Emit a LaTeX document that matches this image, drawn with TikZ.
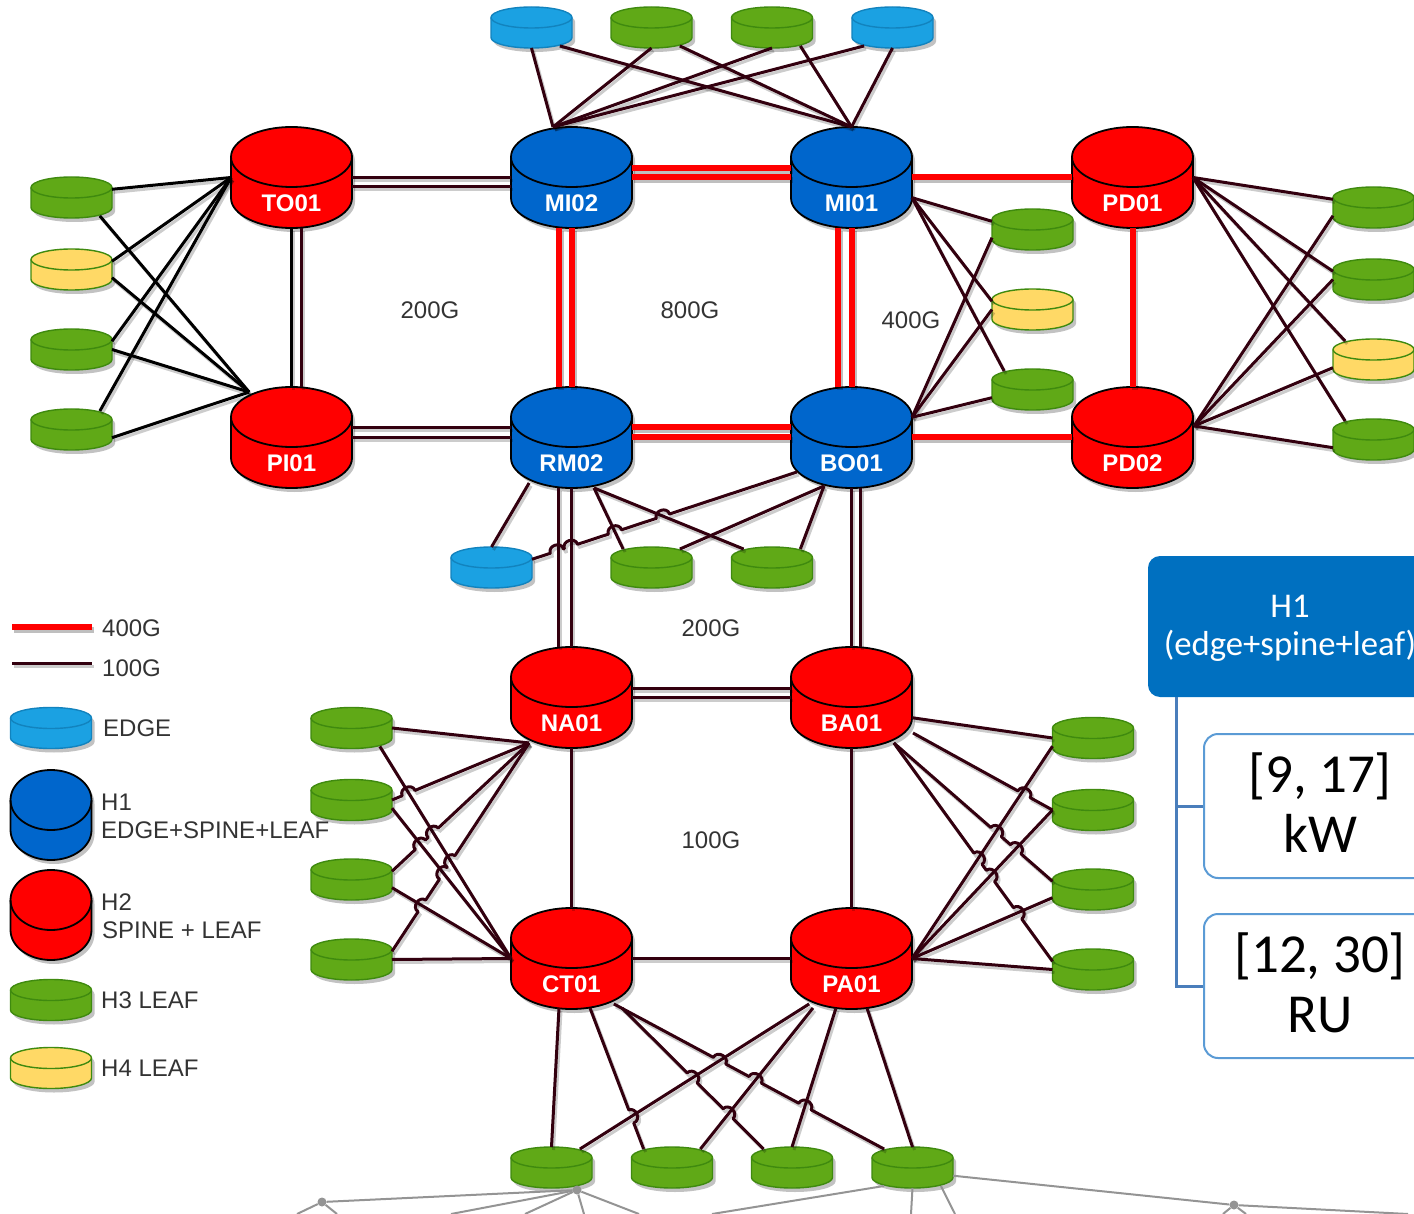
\documentclass[tikz,border=0pt]{standalone}
\usepackage{fontspec}
\setmainfont{Liberation Sans}
\newfontfamily\boxfont{Carlito}
\usetikzlibrary{shadows,calc}

\definecolor{hostred}{HTML}{FF0000}
\definecolor{hostblue}{HTML}{0066CC}
\definecolor{edgeblue}{HTML}{1BA1E2}
\definecolor{edgeline}{HTML}{1283BE}
\definecolor{leafgreen}{HTML}{60A917}
\definecolor{leafline}{HTML}{3F8A0F}
\definecolor{leafyellow}{HTML}{FFD966}
\definecolor{wirecol}{HTML}{33000F}
\definecolor{boxblue}{HTML}{0070C0}
\definecolor{boxline}{HTML}{5B9BD5}
\definecolor{treeline}{HTML}{4A7EBB}

\tikzset{
    canbox/.style={rectangle, outer sep=0pt, inner sep=0pt},
    canbody/.style={drop shadow={shadow xshift=3pt, shadow yshift=-4pt, fill=black!40, opacity=.6}},
    hostname/.style={text=white, font=\fontsize{24}{28}\selectfont\bfseries, yshift=-26pt},
    wire/.style={draw=wirecol, line width=3pt, line join=round,
        preaction={draw=black, draw opacity=.2, line width=3pt, transform canvas={shift={(2pt,-3pt)}}}},
    wireblack/.style={wire, draw=black},
    redwire/.style={draw=hostred, line width=6pt,
        preaction={draw=black, draw opacity=.25, line width=6pt, transform canvas={shift={(2pt,-3pt)}}}},
    txt/.style={text=black!80, font=\fontsize{24}{28}\selectfont, inner sep=0pt},
    keytxt/.style={txt, anchor=west, align=left},
    headbox/.style={rectangle, rounded corners=12pt, fill=boxblue, text=white, align=center,
        minimum width=284pt, minimum height=141pt, font=\boxfont\fontsize{34.7}{38}\selectfont},
    valbox/.style={rectangle, rounded corners=14pt, draw=boxline, line width=2pt, fill=white, align=center,
        minimum width=232pt, minimum height=144pt, font=\boxfont\fontsize{55}{60}\selectfont},
    trunk/.style={draw=treeline, line width=3pt},
    farwire/.style={draw=black!42, line width=2pt},
    fardot/.style={circle, fill=black!42, inner sep=0pt, minimum size=9pt}
}

\newcommand{\Can}[9]{
    \node[canbox, minimum width=#7pt, minimum height=#8pt] (#4) at (#5,#6) {};
    \draw[draw=#2, line width=#3pt, fill=#1, canbody] ({#5-#7/2},{#6-#8/2+#9})
        arc[start angle=180, end angle=0, x radius=#7*.5pt, y radius=#9*1pt]
        -- ++(0,{#8-2*#9})
        arc[start angle=0, end angle=-180, x radius=#7*.5pt, y radius=#9*1pt] -- cycle;
    \draw[draw=#2, line width=#3pt] ({#5-#7/2},{#6-#8/2+#9})
        arc[start angle=180, end angle=360, x radius=#7*.5pt, y radius=#9*1pt];
    \foreach \p/\fx/\fy in {tl/.15/.05,t/.5/0,tr/.85/.05,ru/1/.3,r/1/.5,rd/1/.7,lu/0/.3,l/0/.5,ld/0/.7,bl/.15/.95,b/.5/1,br/.85/.95}
        \coordinate (#4-\p) at ({#5+#7*(\fx-.5)},{#6+#8*(\fy-.5)});
}
\newcommand{\Host}[5]{
    \Can{#1}{black}{1.8}{#2}{#3}{#4}{121}{101}{30}
    \node[hostname] (#2-name) at (#3,#4) {#5};
}
\newcommand{\Leaf}[3]{\Can{leafgreen}{leafline}{1.4}{#1}{#2}{#3}{81}{41}{10.5}}
\newcommand{\Spare}[3]{\Can{leafyellow}{leafline}{1.4}{#1}{#2}{#3}{81}{41}{10.5}}
\newcommand{\Edge}[3]{\Can{edgeblue}{edgeline}{1.4}{#1}{#2}{#3}{81}{41}{10.5}}
\newcommand{\HopWire}[3]{
    \draw[wire] (#1)
        \foreach \hp in {#3} { -- ($(#1)!\hp!(#2)!7pt!(#1)$) to[bend left=90, looseness=1.5] ($(#1)!\hp!(#2)!-7pt!(#1)$) }
        -- (#2);
}

\begin{document}
\begin{tikzpicture}[x=1pt,y=-1pt]
    \clip (0,0) rectangle (1414,1214);

    \Host{hostred}{to01}{291.5}{177.5}{TO01}
    \Host{hostblue}{mi02}{571.5}{177.5}{MI02}
    \Host{hostblue}{mi01}{851.5}{177.5}{MI01}
    \Host{hostred}{pd01}{1132.5}{177.5}{PD01}
    \Host{hostred}{pi01}{291.5}{437.5}{PI01}
    \Host{hostblue}{rm02}{571.5}{437.5}{RM02}
    \Host{hostblue}{bo01}{851.5}{437.5}{BO01}
    \Host{hostred}{pd02}{1132.5}{437.5}{PD02}
    \Host{hostred}{na01}{571.5}{697.5}{NA01}
    \Host{hostred}{ba01}{851.5}{697.5}{BA01}
    \Host{hostred}{ct01}{571.5}{958.5}{CT01}
    \Host{hostred}{pa01}{851.5}{958.5}{PA01}

    \Edge{tA}{531.5}{27.5}
    \Leaf{tB}{651.5}{27.5}
    \Leaf{tC}{772}{27.5}
    \Edge{tD}{892.5}{27.5}

    \Leaf{lA}{71.5}{197.5}
    \Spare{lB}{71.5}{269.5}
    \Leaf{lC}{71.5}{349.5}
    \Leaf{lD}{71.5}{429.5}

    \Leaf{mA}{1032.5}{229.5}
    \Spare{mB}{1032.5}{309.5}
    \Leaf{mC}{1032.5}{389.5}

    \Leaf{rA}{1373.5}{207.5}
    \Leaf{rB}{1373.5}{279.5}
    \Spare{rC}{1373.5}{359.5}
    \Leaf{rD}{1373.5}{439.5}

    \Edge{uA}{491.5}{567.5}
    \Leaf{uB}{651.5}{567.5}
    \Leaf{uC}{772}{567.5}

    \Leaf{nA}{351.5}{728}
    \Leaf{nB}{351.5}{800}
    \Leaf{nC}{351.5}{879.5}
    \Leaf{nD}{351.5}{959.5}

    \Leaf{bA}{1093}{738}
    \Leaf{bB}{1093}{810}
    \Leaf{bC}{1093}{889.5}
    \Leaf{bD}{1093}{969.5}

    \Leaf{cA}{551.5}{1167.5}
    \Leaf{cB}{672}{1167.5}
    \Leaf{cC}{792}{1167.5}
    \Leaf{cD}{912.5}{1167.5}

    \coordinate (miTop) at (553,127);
    \coordinate (pdSide) at (1194,426);
    \coordinate (rmFoot) at (594,488);
    \coordinate (boSideA) at (797,472);
    \coordinate (boSideB) at (824,486);
    \coordinate (baSide) at (913,733);
    \coordinate (ctFootA) at (559,1008);
    \coordinate (ctFootB) at (590,1008);
    \coordinate (ctFootC) at (622,1008);
    \coordinate (paFootB) at (813,1008);
    \coordinate (paFootC) at (836,1008);
    \coordinate (paFootD) at (867,1008);

    \draw[redwire] ([yshift=9pt]mi02-r) -- ([yshift=9pt]mi01-l);
    \draw[redwire] (mi02-r) -- (mi01-l);
    \draw[redwire] (mi01-r) -- (pd01-l);
    \draw[redwire] ([yshift=10pt]rm02-r) -- ([yshift=10pt]bo01-l);
    \draw[redwire] (rm02-r) -- (bo01-l);
    \draw[redwire] (bo01-r) -- (pd02-l);
    \draw[redwire] ([xshift=-13pt]mi02-b) -- ([xshift=-13pt]rm02-t);
    \draw[redwire] (mi02-b) -- (rm02-t);
    \draw[redwire] ([xshift=-14pt]mi01-b) -- ([xshift=-14pt]bo01-t);
    \draw[redwire] (mi01-b) -- (bo01-t);
    \draw[redwire] (pd01-b) -- (pd02-t);

    \draw[wire] (to01-r) -- (mi02-l);
    \draw[wire] ([yshift=-9pt]to01-r) -- ([yshift=-9pt]mi02-l);
    \draw[wire] (pi01-r) -- (rm02-l);
    \draw[wire] ([yshift=10pt]pi01-r) -- ([yshift=10pt]rm02-l);
    \draw[wireblack] (to01-b) -- (pi01-t);
    \draw[wire] ([xshift=10pt]to01-b) -- ([xshift=10pt]pi01-t);
    \draw[wire] ([xshift=-13pt]rm02-b) -- ([xshift=-13pt]na01-t);
    \draw[wire] (rm02-b) -- (na01-t);
    \draw[wire] (bo01-b) -- (ba01-t);
    \draw[wire] ([xshift=9pt]bo01-b) -- ([xshift=9pt]ba01-t);
    \draw[wire] (na01-r) -- (ba01-l);
    \draw[wire] ([yshift=9pt]na01-r) -- ([yshift=9pt]ba01-l);
    \draw[wire] (na01-b) -- (ct01-t);
    \draw[wire] (ba01-b) -- (pa01-t);
    \draw[wire] (ct01-r) -- (pa01-l);

    \draw[wire] (tA-b) -- (miTop);
    \draw[wire] (tB-b) -- (miTop);
    \draw[wire] (tC-b) -- (miTop);
    \draw[wire] (tD-bl) -- (miTop);
    \draw[wire] (tA-br) -- (mi01-t);
    \draw[wire] (tB-br) -- (mi01-t);
    \draw[wire] (tC-br) -- (mi01-t);
    \draw[wire] (tD-b) -- (mi01-t);

    \draw[wireblack] (lA-ru) -- (to01-l);
    \draw[wireblack] (lB-ru) -- (to01-l);
    \draw[wireblack] (lC-ru) -- (to01-l);
    \draw[wireblack] (lD-tr) -- (to01-l);
    \draw[wireblack] (lA-br) -- (pi01-tl);
    \draw[wireblack] (lB-rd) -- (pi01-tl);
    \draw[wireblack] (lC-r) -- (pi01-tl);
    \draw[wireblack] (lD-rd) -- (pi01-tl);

    \draw[wire] (mi01-rd) -- (mA-lu);
    \draw[wire] (mi01-rd) -- (mB-lu);
    \draw[wire] (mi01-rd) -- (mC-tl);
    \draw[wire] (bo01-ru) -- (mA-ld);
    \draw[wire] (bo01-ru) -- (mB-l);
    \draw[wire] (bo01-ru) -- (mC-ld);

    \draw[wire] (pd01-r) -- (rA-lu);
    \draw[wire] (pd01-r) -- (rB-lu);
    \draw[wire] (pd01-r) -- (rC-tl);
    \draw[wire] (pd01-r) -- (rD-tl);
    \draw[wire] (pdSide) -- (rA-ld);
    \draw[wire] (pdSide) -- (rB-l);
    \draw[wire] (pdSide) -- (rC-ld);
    \draw[wire] (pdSide) -- (rD-ld);

    \draw[wire] (rm02-bl) -- (uA-t);
    \draw[wire] (rmFoot) -- (uB-tl);
    \draw[wire] (rmFoot) -- (uC-tl);
    \draw[wire] (boSideB) -- (uB-tr);
    \draw[wire] (boSideB) -- (uC-tr);
    \HopWire{uA-ru}{boSideA}{.094,.147,.313,.494}

    \draw[wire] (nA-br) -- (ct01-l);
    \draw[wire] (nB-rd) -- (ct01-l);
    \draw[wire] (nC-rd) -- (ct01-l);
    \draw[wire] (nD-r) -- (ct01-l);
    \draw[wire] (nA-r) -- (na01-bl);
    \HopWire{nB-r}{na01-bl}{.121}
    \HopWire{nC-ru}{na01-bl}{.207,.30}
    \HopWire{nD-ru}{na01-bl}{.218,.374,.431}

    \draw[wire] (pa01-r) -- (bA-ld);
    \draw[wire] (pa01-r) -- (bB-l);
    \draw[wire] (pa01-r) -- (bC-ld);
    \draw[wire] (pa01-r) -- (bD-l);
    \draw[wire] (ba01-rd) -- (bA-l);
    \HopWire{baSide}{bB-l}{.796}
    \HopWire{ba01-br}{bC-lu}{.644,.768}
    \HopWire{ba01-br}{bD-lu}{.53,.609,.78}

    \draw[wire] (pa01-bl) -- (cA-tr);
    \draw[wire] (paFootB) -- (cB-tr);
    \draw[wire] (paFootC) -- (cC-t);
    \draw[wire] (paFootD) -- (cD-t);
    \draw[wire] (ctFootA) -- (cA-t);
    \HopWire{ctFootB}{cB-tl}{.769}
    \HopWire{ctFootC}{cC-tl}{.495,.749}
    \HopWire{ct01-br}{cD-tl}{.391,.523,.707}

    \node[txt] (capA) at (430,310) {200G};
    \node[txt] (capB) at (690,310) {800G};
    \node[txt] (capC) at (911,320) {400G};
    \node[txt] (capD) at (711,628) {200G};
    \node[txt] (capE) at (711,840) {100G};

    \coordinate (keyRedA) at (12,627);
    \coordinate (keyRedB) at (92,627);
    \coordinate (keyDarkA) at (12,663);
    \coordinate (keyDarkB) at (92,663);
    \draw[redwire] (keyRedA) -- (keyRedB);
    \draw[wire] (keyDarkA) -- (keyDarkB);
    \Edge{keyEdge}{51}{728}
    \Can{hostblue}{black}{1.8}{keyBlue}{51}{815}{81}{90}{30}
    \Can{hostred}{black}{1.8}{keyRed}{51}{915}{81}{90}{30}
    \Leaf{keyGreen}{51}{1000}
    \Spare{keyYellow}{51}{1068}
    \node[keytxt] (textA) at (102,628) {400G};
    \node[keytxt] (textB) at (102,668) {100G};
    \node[keytxt] (textC) at (103,728) {EDGE};
    \node[keytxt] (textD) at (101,802) {H1};
    \node[keytxt] (textE) at (101,830) {EDGE+SPINE+LEAF};
    \node[keytxt] (textF) at (101,902) {H2};
    \node[keytxt] (textG) at (102,930) {SPINE + LEAF};
    \node[keytxt] (textH) at (101,1000) {H3 LEAF};
    \node[keytxt] (textI) at (101,1068) {H4 LEAF};

    \node[headbox] (head) at (1290,626.5) {\rule{0pt}{26pt}H1\\(edge+spine+leaf)};
    \node[valbox] (power) at (1320,806) {[9, 17]\\kW\rule[-6pt]{0pt}{6pt}};
    \node[valbox] (space) at (1320,986) {[12, 30]\\RU\rule[-6pt]{0pt}{6pt}};
    \coordinate (stem) at (1176,697);
    \draw[trunk] (stem) |- (power.west);
    \draw[trunk] (stem) |- (space.west);

    \node[fardot] (dotA) at (322,1202) {};
    \node[fardot] (dotB) at (577,1190) {};
    \node[fardot] (dotC) at (1234,1205) {};
    \draw[farwire] (dotA) -- (dotB);
    \draw[farwire] (cD-rd) -- (dotC);
    \foreach \n/\fx/\fy/\fr in {a/297/1214/dotA,b/337/1214/dotA,c/451/1214/dotB,d/525/1214/dotB,e/584/1214/dotB,f/639/1214/dotB,g/1223/1214/dotC,h/1246/1214/dotC,i/1408/1214/dotC}{
        \coordinate (far\n) at (\fx,\fy);
        \draw[farwire] (\fr) -- (far\n);
    }
    \coordinate (farj) at (712,1214);
    \coordinate (fark) at (911,1214);
    \coordinate (farl) at (955,1214);
    \draw[farwire] (cD-bl) -- (farj);
    \draw[farwire] (cD-b) -- (fark);
    \draw[farwire] (cD-br) -- (farl);
\end{tikzpicture}
\end{document}
